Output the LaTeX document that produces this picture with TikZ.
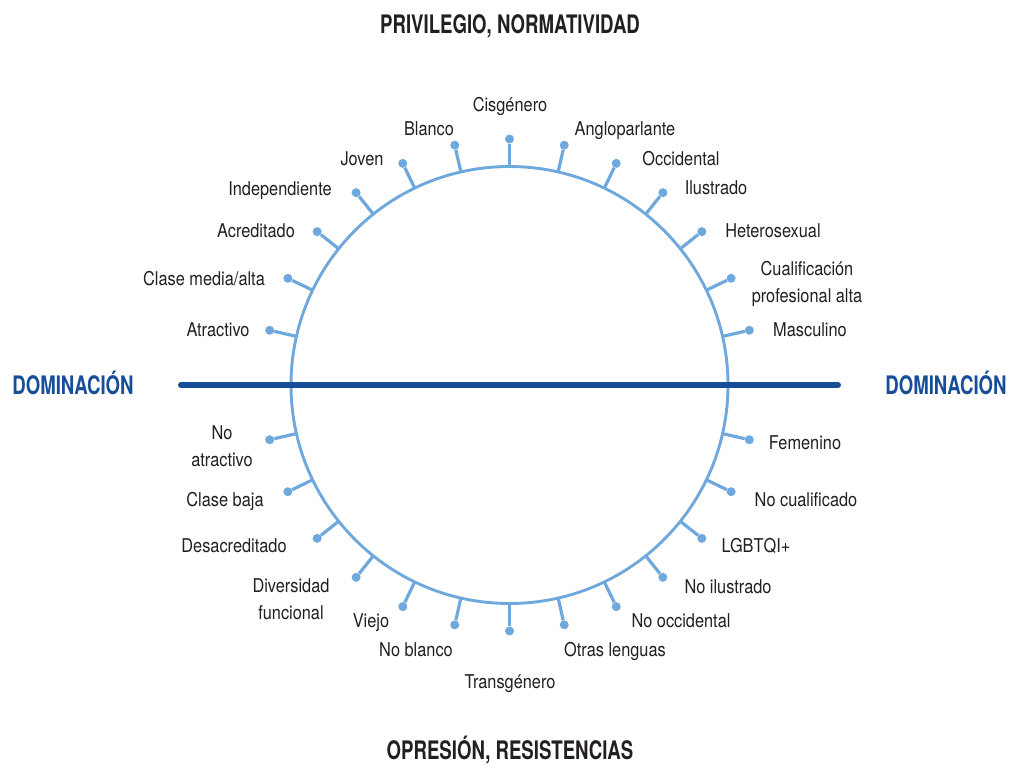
\documentclass[tikz,border=0pt]{standalone}
\usepackage{fontspec}
\setmainfont[FakeStretch=0.86]{TeX Gyre Heros}
\newfontfamily\headfont[FakeStretch=0.73]{TeX Gyre Heros}
\usetikzlibrary{calc}

\definecolor{ringblue}{RGB}{111,168,220}
\definecolor{axisblue}{RGB}{22,78,152}
\definecolor{inkgray}{RGB}{35,31,32}

\tikzset{
    ring/.style={draw=ringblue, line width=2.9pt},
    spoke/.style={ringblue, line width=3.2pt},
    tipdot/.style={circle, fill=ringblue, inner sep=0pt, minimum size=9pt},
    attr/.style={font=\fontsize{19}{26.5}\selectfont, text=inkgray, align=center, inner sep=0pt, anchor=base},
    pole/.style={font=\headfont\fontsize{25.5}{28}\selectfont\bfseries, text=inkgray, inner sep=0pt, anchor=base},
    side/.style={font=\headfont\fontsize{25.5}{28}\selectfont\bfseries, text=axisblue, inner sep=0pt, anchor=base},
}

\begin{document}
\begin{tikzpicture}[x=1pt,y=-1pt]
    \useasboundingbox (0,0) rectangle (1009,764);
    \coordinate (c) at (509.5,385);

    % Draw the ring
    \draw[ring] (c) circle (218.5pt);

    % Upper half: privilege
    \foreach \k/\lx/\ly/\txt in {1/810/336/Masculino, 2/807/302/{Cualificación\\profesional alta},
        3/773/237/Heterosexual, 4/716/194/Ilustrado, 5/681/165/Occidental,
        6/625/135/Angloparlante, 7/510/111/Cisgénero, 8/429/135/Blanco, 9/362/165/Joven,
        10/280/195/Independiente, 11/256/237/Acreditado, 12/204/285/{Clase media/alta},
        13/218/336/Atractivo} {
        \coordinate (up\k) at ($(c)+(-\k*180/14:218.5)$);
        \node[tipdot] (updot\k) at ($(c)+(-\k*180/14:246)$) {};
        \draw[spoke] (up\k) -- (updot\k);
        \node[attr] (uplab\k) at (\lx,\ly) {\txt};
    }

    % Lower half: oppression
    \foreach \k/\lx/\ly/\txt in {1/805/449/Femenino, 2/806/506/{No cualificado},
        3/756/552/{LGBTQI+}, 4/728/593/{No ilustrado}, 5/681/627/{No occidental},
        6/615/656/{Otras lenguas}, 7/510/688/Transgénero, 8/416/656/{No blanco},
        9/371/627/Viejo, 10/291/619/{Diversidad\\funcional}, 11/234/552/Desacreditado,
        12/225/506/{Clase baja}, 13/222/466/{No\\atractivo}} {
        \coordinate (lo\k) at ($(c)+(\k*180/14:218.5)$);
        \node[tipdot] (lodot\k) at ($(c)+(\k*180/14:246)$) {};
        \draw[spoke] (lo\k) -- (lodot\k);
        \node[attr] (lolab\k) at (\lx,\ly) {\txt};
    }

    % Domination axis
    \coordinate (barL) at (181,385);
    \coordinate (barR) at (838,385);
    \draw[axisblue, line width=6pt, line cap=round] (barL) -- (barR);

    % Titles
    \node[pole] (privilegio) at (510,33) {PRIVILEGIO, NORMATIVIDAD};
    \node[pole] (opresion) at (510,759) {OPRESIÓN, RESISTENCIAS};
    \node[side] (domL) at (73,394) {DOMINACIÓN};
    \node[side] (domR) at (946,394) {DOMINACIÓN};
\end{tikzpicture}
\end{document}
